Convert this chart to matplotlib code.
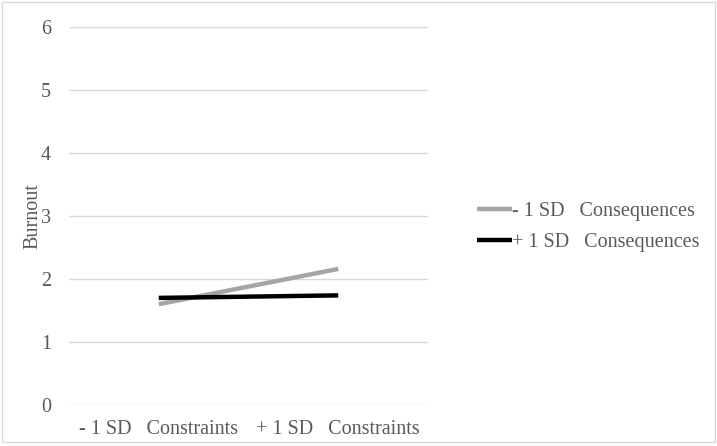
import matplotlib.pyplot as plt
from matplotlib.patches import Rectangle

categories = ["- 1 SD   Constraints", "+ 1 SD   Constraints"]
low_consequences = [1.60, 2.16]
high_consequences = [1.70, 1.74]
series_labels = ["- 1 SD   Consequences", "+ 1 SD   Consequences"]

plt.rcParams['font.family'] = ['Liberation Serif', 'DejaVu Serif']
text_color = "#595959"

fig = plt.figure(figsize=(7.17, 4.46), dpi=100)
ax = fig.add_axes([69 / 717, 1 - 405 / 446, (428 - 69) / 717, (405 - 27) / 446])

x = range(len(categories))
ax.plot(x, low_consequences, color="#a5a5a5", lw=3.2, solid_capstyle="butt", label=series_labels[0])
ax.plot(x, high_consequences, color="#000000", lw=3.2, solid_capstyle="butt", label=series_labels[1])

ax.set_xlim(-0.5, 1.5)
ax.set_ylim(0, 6)
ax.set_yticks(range(0, 7))
ax.set_xticks(list(x))
ax.set_xticklabels(categories)
ax.grid(axis="y", color="#d9d9d9", lw=1)
ax.set_axisbelow(True)
for s in ax.spines.values():
    s.set_visible(False)
ax.tick_params(length=0, labelsize=14.5, colors=text_color, pad=11)
ax.tick_params(axis="y", pad=13)
ax.set_ylabel("Burnout", fontsize=14.5, color=text_color)
ax.yaxis.set_label_coords((42 - 69) / 359, 0.5)

ax.legend(loc="center left", bbox_to_anchor=((477 - 69) / (428 - 69), (405 - 227) / 378), frameon=False,
          fontsize=14.5, labelcolor=text_color, handlelength=1.75, handletextpad=0.0,
          labelspacing=0.55, borderpad=0, borderaxespad=0)

fig.patches.append(Rectangle((2 / 717, 4 / 446), 713 / 717, 440 / 446, transform=fig.transFigure,
                             fill=False, edgecolor="#d9d9d9", lw=1))

plt.savefig("out.png", dpi=100)
